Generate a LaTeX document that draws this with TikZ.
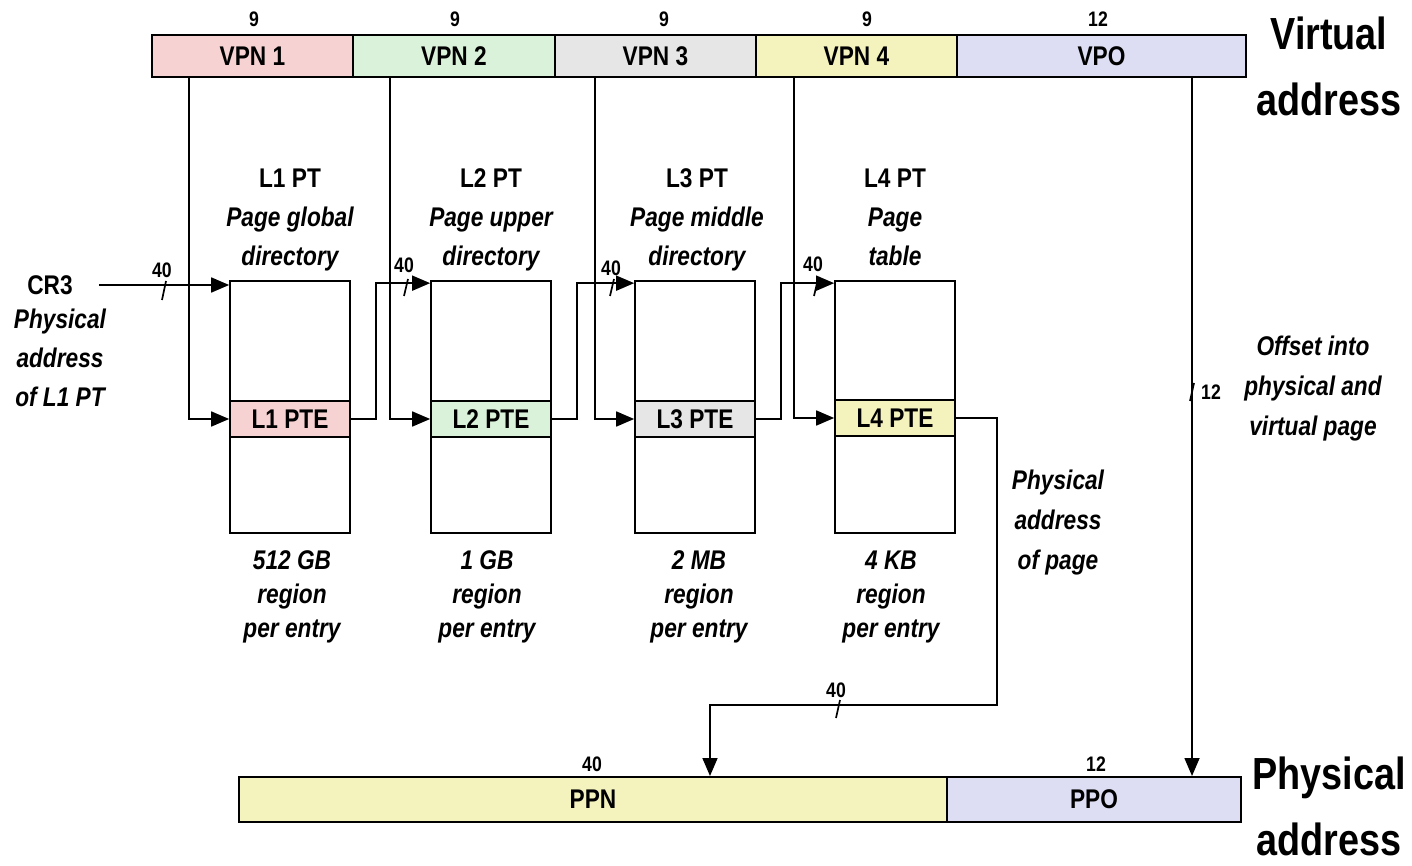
\documentclass[tikz,border=0pt]{standalone}
\usepackage{fontspec}
\setmainfont{Liberation Sans}[FakeStretch=0.84]
\usetikzlibrary{arrows.meta}
\definecolor{cpink}{HTML}{F6D2D2}
\definecolor{cgreen}{HTML}{DBF2DA}
\definecolor{cgray}{HTML}{E6E6E6}
\definecolor{cyellow}{HTML}{F5F3BD}
\definecolor{clav}{HTML}{DDDDF3}
\begin{document}
\begin{tikzpicture}[x=1pt,y=-1pt,
  field/.style={draw, line width=2pt, inner sep=0pt, minimum height=42pt,
    font=\bfseries\fontsize{27}{30}\selectfont},
  pfield/.style={field, minimum height=45pt},
  ptbox/.style={draw, line width=1.7pt, inner sep=0pt, minimum width=120pt, minimum height=252pt},
  pte/.style={draw, line width=1.7pt, inner sep=0pt, minimum width=120pt, minimum height=36pt,
    font=\bfseries\fontsize{27}{30}\selectfont},
  arr/.style={line width=1.7pt, -{Triangle[length=18pt,width=15pt]}},
  ln/.style={line width=1.7pt},
  bits/.style={inner sep=0pt, font=\bfseries\fontsize{21}{24}\selectfont},
  ttl/.style={inner sep=0pt, align=center, font=\bfseries\itshape\fontsize{27}{39}\selectfont},
  note/.style={inner sep=0pt, align=center, font=\bfseries\itshape\fontsize{27}{34}\selectfont},
  note40/.style={inner sep=0pt, align=center, font=\bfseries\itshape\fontsize{27}{40}\selectfont},
  big/.style={inner sep=0pt, align=center, font=\bfseries\fontsize{45}{66}\selectfont}
]
\useasboundingbox (0,0) rectangle (1412,866);

% virtual address fields
\node[field, fill=cpink,   minimum width=201pt] (vpn1) at (252.5,56) {VPN 1};
\node[field, fill=cgreen,  minimum width=202pt] (vpn2) at (454,56) {VPN 2};
\node[field, fill=cgray,   minimum width=201pt] (vpn3) at (655.5,56) {VPN 3};
\node[field, fill=cyellow, minimum width=201pt] (vpn4) at (856.5,56) {VPN 4};
\node[field, fill=clav,    minimum width=289pt] (vpo)  at (1101.5,56) {VPO};
\node[bits] at (254,19) {9};
\node[bits] at (455,19) {9};
\node[bits] at (664,19) {9};
\node[bits] at (867,19) {9};
\node[bits] at (1098,19) {12};
\node[big] (va) at (1329,66) {Virtual\\address};

% page tables
\node[ptbox] (l1) at (290,407) {};
\node[ptbox] (l2) at (491,407) {};
\node[ptbox] (l3) at (695,407) {};
\node[ptbox] (l4) at (895,407) {};
\node[pte, fill=cpink]   (pte1) at (290,419) {L1 PTE};
\node[pte, fill=cgreen]  (pte2) at (491,419) {L2 PTE};
\node[pte, fill=cgray]   (pte3) at (695,419) {L3 PTE};
\node[pte, fill=cyellow] (pte4) at (895,418) {L4 PTE};

\node[ttl] at (290,220) {\textup{L1 PT}\\Page global\\directory};
\node[ttl] at (491,220) {\textup{L2 PT}\\Page upper\\directory};
\node[ttl] at (697,220) {\textup{L3 PT}\\Page middle\\directory};
\node[ttl] at (895,217) {\textup{L4 PT}\\Page\\table};

\node[note] at (292,597) {512 GB\\region\\per entry};
\node[note] at (487,597) {1 GB\\region\\per entry};
\node[note] at (699,597) {2 MB\\region\\per entry};
\node[note] at (891,597) {4 KB\\region\\per entry};

% CR3
\node[inner sep=0pt, font=\bfseries\fontsize{27}{30}\selectfont] (cr3) at (50,285) {CR3};
\node[ttl] at (60,358) {Physical\\address\\of L1 PT};
\draw[arr] ([xshift=26pt]cr3.east) -- (cr3.east -| l1.west);
\draw[ln] (162,300) -- (166,281);
\node[bits] at (162,270) {40};

% VPN -> PTE
\draw[arr] (vpn1.south -| 189,0) |- (pte1.west);
\draw[arr] (vpn2.south -| 390,0) |- (pte2.west);
\draw[arr] (vpn3.south -| 595,0) |- (pte3.west);
\draw[arr] (vpn4.south -| 794,0) |- (pte4.west);

% PTE -> next table
\draw[arr] (pte1.east) -- ++(25,0) |- ([yshift=-3pt]l2.north west);
\draw[arr] (pte2.east) -- ++(25,0) |- ([yshift=-3pt]l3.north west);
\draw[arr] (pte3.east) -- ++(25,0) |- ([yshift=-3pt]l4.north west);
\draw[ln] (404,296) -- (408,279);
\draw[ln] (610,296) -- (614,279);
\draw[ln] (814,296) -- (818,279);
\node[bits] at (404,265) {40};
\node[bits] at (611,268) {40};
\node[bits] at (813,264) {40};

% physical address
\node[pfield, fill=cyellow, minimum width=708pt] (ppn) at (593,799.5) {PPN};
\node[pfield, fill=clav,    minimum width=294pt] (ppo) at (1094,799.5) {PPO};
\node[bits] at (592,764) {40};
\node[bits] at (1096,764) {12};
\node[big] (pa) at (1329,806) {Physical\\address};

% L4 PTE -> PPN
\coordinate (pbend) at (997,705);
\draw[arr] (pte4.east) -| (pbend) -| (ppn.north -| 710,0);
\draw[ln] (836,718) -- (840,700);
\node[bits] at (836,690) {40};
\node[note40] at (1058,523) {Physical\\address\\of page};

% VPO -> PPO
\draw[arr] (vpo.south -| 1192,0) -- (ppo.north -| 1192,0);
\draw[ln] (1190,401) -- (1194,383);
\node[bits] at (1211,392) {12};
\node[note40] at (1313,389) {Offset into\\physical and\\virtual page};
\end{tikzpicture}
\end{document}
